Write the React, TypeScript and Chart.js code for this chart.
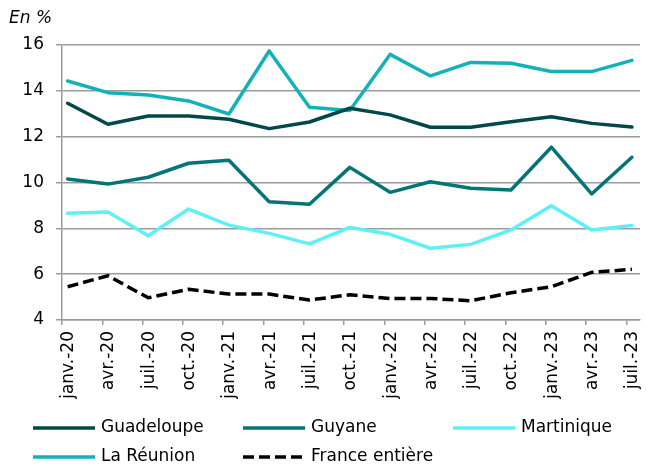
import React, { useEffect, useRef } from 'react';
import { Chart, registerables } from 'chart.js';

Chart.register(...registerables);

const categories = ['janv.-20', 'avr.-20', 'juil.-20', 'oct.-20', 'janv.-21', 'avr.-21', 'juil.-21', 'oct.-21', 'janv.-22', 'avr.-22', 'juil.-22', 'oct.-22', 'janv.-23', 'avr.-23', 'juil.-23'];
const guadeloupe = [13.46, 12.54, 12.9, 12.9, 12.76, 12.35, 12.64, 13.24, 12.95, 12.41, 12.41, 12.65, 12.87, 12.58, 12.42];
const guyane = [10.15, 9.93, 10.23, 10.84, 10.97, 9.16, 9.05, 10.66, 9.57, 10.03, 9.75, 9.67, 11.54, 9.5, 11.1];
const martinique = [8.66, 8.71, 7.68, 8.84, 8.14, 7.78, 7.32, 8.04, 7.74, 7.13, 7.3, 7.93, 8.99, 7.93, 8.12];
const reunion = [14.43, 13.92, 13.82, 13.56, 12.99, 15.74, 13.28, 13.14, 15.59, 14.65, 15.24, 15.2, 14.84, 14.84, 15.33];
const franceEntiere = [5.45, 5.93, 4.97, 5.34, 5.13, 5.13, 4.87, 5.1, 4.94, 4.94, 4.84, 5.19, 5.45, 6.08, 6.21];
const yMin = 4;
const yMax = 16;
const yStep = 2;

const POINT_OFFSET = 0.14;
const X_MAX = 14.34;
const FONT = '"DejaVu Sans", Verdana, sans-serif';
const GRID = '#9b9b9b';

type Series = { label: string; data: number[]; color: string; dash?: number[] };
const series: Series[] = [
  { label: 'Guadeloupe', data: guadeloupe, color: '#02484a' },
  { label: 'Guyane', data: guyane, color: '#047577' },
  { label: 'Martinique', data: martinique, color: '#5df1f6' },
  { label: 'La Réunion', data: reunion, color: '#12b2b8' },
  { label: 'France entière', data: franceEntiere, color: '#000000', dash: [11, 5] },
];

const customPlugin = {
  id: 'customDraw',
  afterDraw(chart: any) {
    const ctx: CanvasRenderingContext2D = chart.ctx;
    const xs = chart.scales.x;
    ctx.save();
    ctx.fillStyle = '#000';
    ctx.font = `17px ${FONT}`;
    ctx.textAlign = 'right';
    ctx.textBaseline = 'middle';
    categories.forEach((c, i) => {
      const x = xs.getPixelForValue(i + POINT_OFFSET);
      ctx.save();
      ctx.translate(x + 1, xs.top + 11);
      ctx.rotate(-Math.PI / 2);
      ctx.fillText(c, 0, 0);
      ctx.restore();
    });
    // unit title
    ctx.font = `italic 17px ${FONT}`;
    ctx.textAlign = 'left';
    ctx.fillText('En %', 9, 19);
    // legend
    ctx.font = `17px ${FONT}`;
    const colW = 210;
    const left = 33;
    const rows = [428, 457];
    series.forEach((s, i) => {
      const col = i < 3 ? i : i - 3;
      const row = i < 3 ? 0 : 1;
      const x0 = left + col * colW;
      const y = rows[row];
      ctx.save();
      ctx.strokeStyle = s.color;
      ctx.lineWidth = 3.5;
      ctx.setLineDash(s.dash || []);
      ctx.beginPath();
      ctx.moveTo(x0, y);
      ctx.lineTo(x0 + 62, y);
      ctx.stroke();
      ctx.restore();
      ctx.fillStyle = '#000';
      ctx.textBaseline = 'middle';
      ctx.fillText(s.label, x0 + 68, y);
    });
    ctx.restore();
  },
};

export default function App() {
  const ref = useRef<HTMLCanvasElement | null>(null);
  useEffect(() => {
    if (!ref.current) return;
    const chart = new Chart(ref.current, {
      type: 'line',
      data: {
        datasets: series.map((s) => ({
          label: s.label,
          data: s.data.map((v, i) => ({ x: i + POINT_OFFSET, y: v })),
          borderColor: s.color,
          backgroundColor: s.color,
          borderWidth: 3.5,
          borderDash: s.dash || [],
          borderJoinStyle: 'round' as const,
          borderCapStyle: s.dash ? ('butt' as const) : ('round' as const),
          pointRadius: 0,
          pointHoverRadius: 0,
          tension: 0,
          fill: false,
        })),
      },
      options: {
        responsive: false,
        animation: false,
        layout: { padding: { left: 0, right: 6, top: 45, bottom: 0 } },
        plugins: { legend: { display: false }, tooltip: { enabled: false }, title: { display: false } },
        scales: {
          x: {
            type: 'linear',
            min: 0,
            max: X_MAX,
            afterBuildTicks: (scale: any) => {
              scale.ticks = categories.map((_, i) => ({ value: i }));
            },
            afterFit: (scale: any) => {
              scale.height = 144;
            },
            ticks: { display: false },
            grid: { display: true, drawOnChartArea: false, drawTicks: true, tickLength: 5, color: GRID, lineWidth: 1.5 },
            border: { display: true, color: GRID, width: 1.5 },
          },
          y: {
            min: yMin,
            max: yMax,
            afterFit: (scale: any) => {
              scale.width = 62;
            },
            ticks: { stepSize: yStep, color: '#000', font: { family: FONT, size: 17 }, padding: 12 },
            grid: { color: GRID, lineWidth: 1.5, tickLength: 6 },
            border: { display: true, color: GRID, width: 1.5 },
          },
        },
      },
      plugins: [customPlugin],
    });
    return () => chart.destroy();
  }, []);
  return (
    <div style={{ position: 'absolute', left: 0, top: 0, width: 646, height: 464, background: '#fff' }}>
      <canvas ref={ref} width={646} height={464} style={{ width: 646, height: 464, display: 'block' }} />
    </div>
  );
}
